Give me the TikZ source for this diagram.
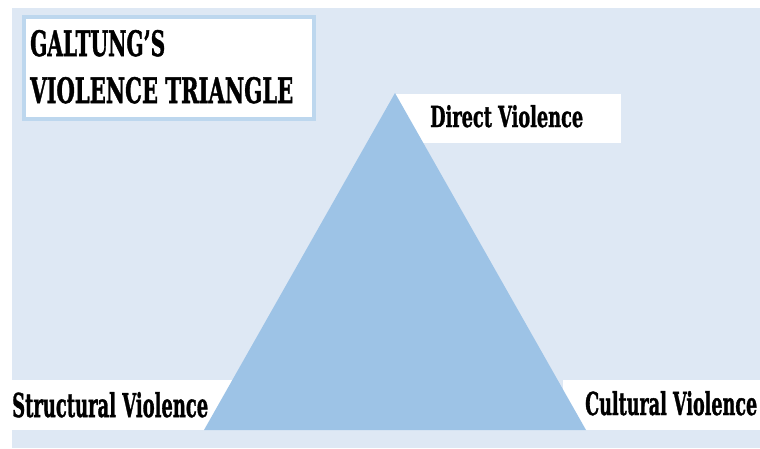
\documentclass[tikz,border=0pt]{standalone}
\usepackage{fontspec}
\usepackage{graphicx}
\newfontfamily\labfont{DejaVu Serif}[BoldFeatures={FakeBold=1.5}]
\definecolor{bgblue}{HTML}{DEE8F4}
\definecolor{triblue}{HTML}{9DC3E6}
\definecolor{frameblue}{HTML}{BDD7EE}
\newcommand{\fitlab}[3]{\resizebox{#1pt}{#2pt}{\labfont\bfseries #3}}
\tikzset{
  labelbox/.style={fill=white, draw=none},
  labeltext/.style={anchor=base west, inner sep=0pt, text=black},
}
\begin{document}
\begin{tikzpicture}[x=1pt,y=-1pt]
\useasboundingbox (0,0) rectangle (760,448);
% background
\fill[bgblue] (12,8) rectangle (760,448);
% title frame
\node[labelbox, draw=frameblue, line width=4pt, minimum width=290pt, minimum height=102pt, inner sep=0pt] (titlebox) at (169,68) {};
% label boxes
\fill[white] (395,94) rectangle (621,143);
\fill[white] (12,380) rectangle (240,430);
\fill[white] (563,380) rectangle (760,430);
% triangle
\coordinate (apex) at (395,93);
\coordinate (bl) at (204,430);
\coordinate (br) at (586,430);
\fill[triblue] (apex) -- (bl) -- (br) -- cycle;
% texts
\node[labeltext] (t1) at (30,56) {\fitlab{135}{26}{GALTUNG’S}};
\node[labeltext] (t2) at (30,103) {\fitlab{263}{26}{VIOLENCE TRIANGLE}};
\node[labeltext] (direct) at (430,127) {\fitlab{153}{22}{Direct Violence}};
\node[labeltext] (structural) at (12,417) {\fitlab{196}{25}{Structural Violence}};
\node[labeltext] (cultural) at (585,415) {\fitlab{172}{24}{Cultural Violence}};
\end{tikzpicture}
\end{document}
